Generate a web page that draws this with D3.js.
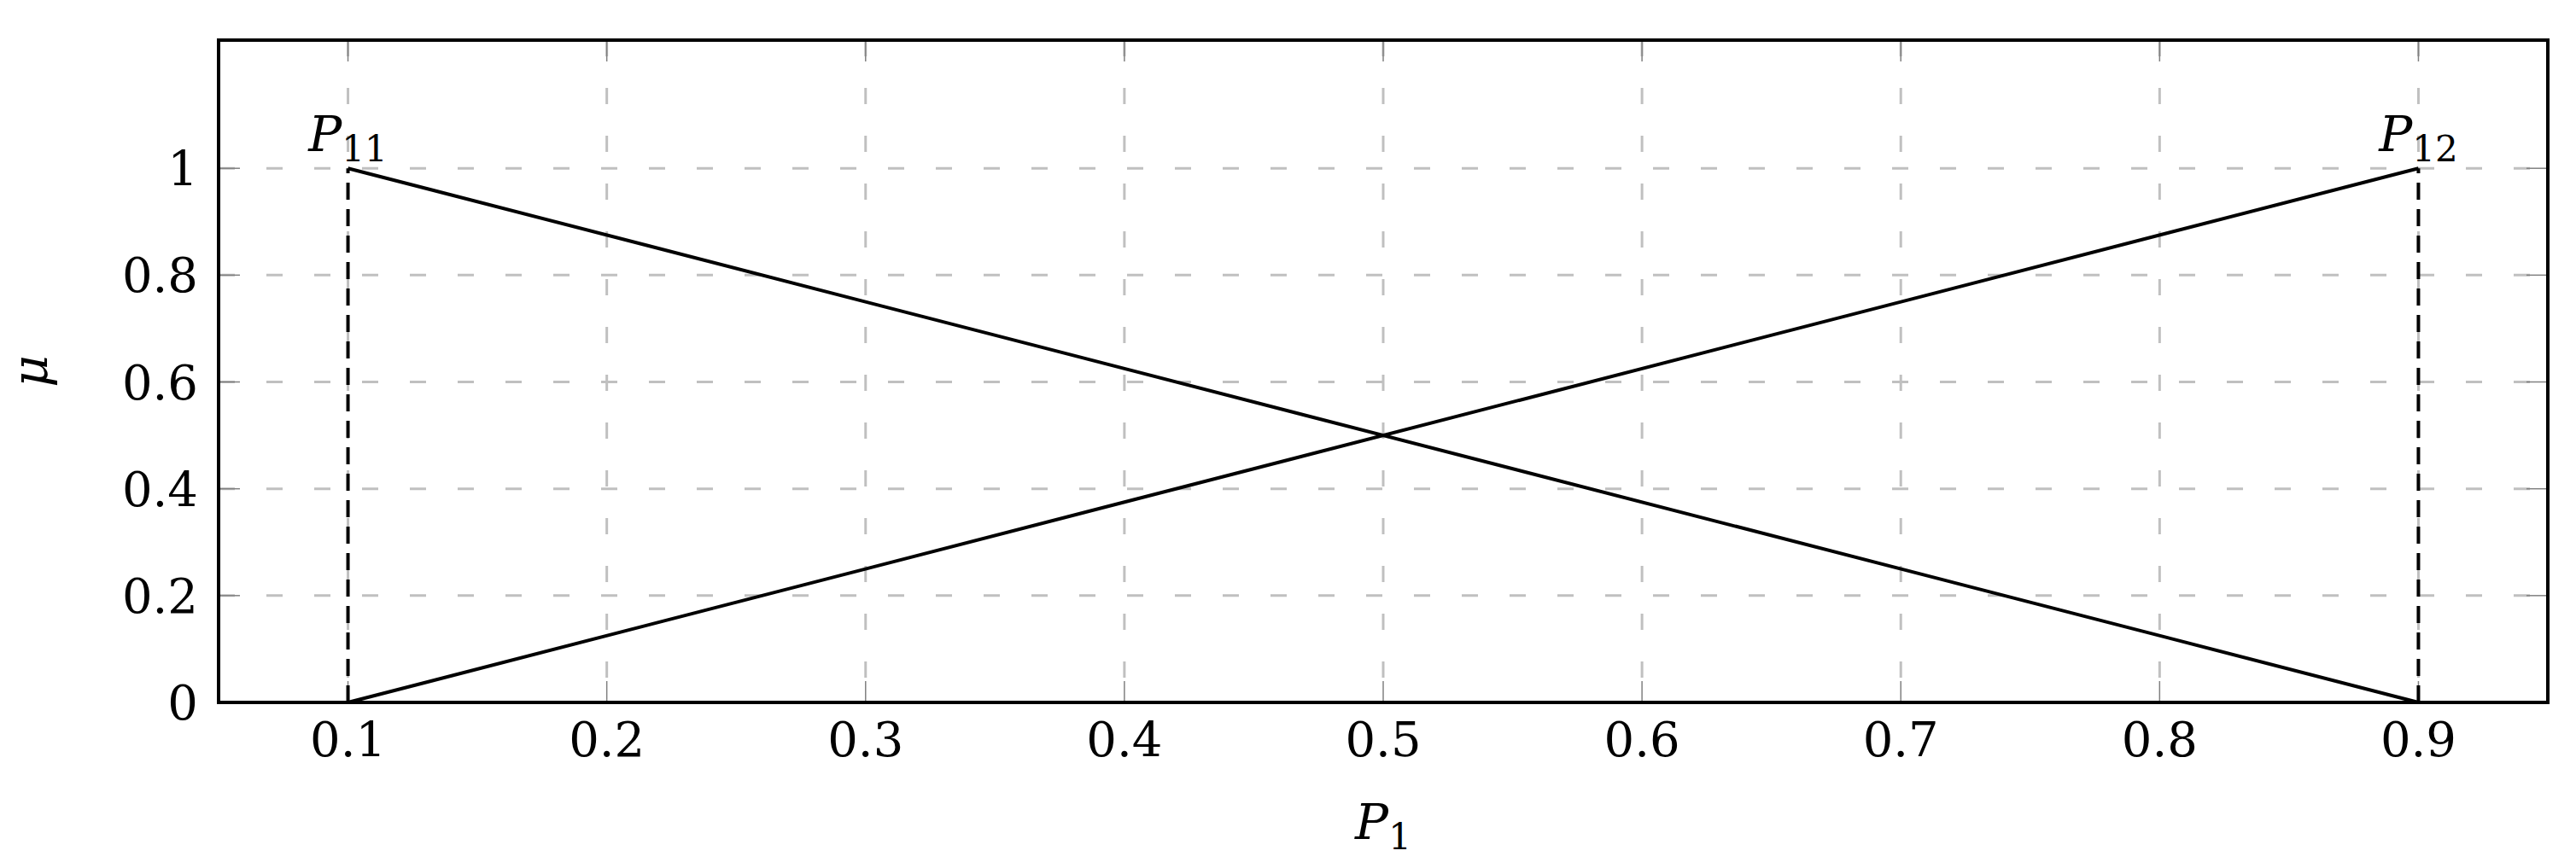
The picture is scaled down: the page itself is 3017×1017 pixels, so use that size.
<!DOCTYPE html>
<html>
<head>
<meta charset="utf-8">
<script src="https://cdn.jsdelivr.net/npm/d3@7"></script>
<style>
  body { margin: 0; background: #fff; }
  text { font-family: "DejaVu Serif", "Liberation Serif", serif; }
</style>
</head>
<body>
<svg id="chart" width="3017" height="1017"></svg>
<script>
// Membership functions mu(P1)
var xTicks = [0.1, 0.2, 0.3, 0.4, 0.5, 0.6, 0.7, 0.8, 0.9];
var yTicks = [0, 0.2, 0.4, 0.6, 0.8, 1];
var falling = [[0.1, 1], [0.9, 0]];   // P11
var rising = [[0.1, 0], [0.9, 1]];    // P12
var peaks = [
  { name: "P", sub: "11", x: 0.1, y: 1 },
  { name: "P", sub: "12", x: 0.9, y: 1 }
];

var svg = d3.select("#chart");
var pL = 256, pR = 2984, pT = 47, pB = 823;

var x = d3.scaleLinear().domain([0.05, 0.95]).range([pL, pR]);
var y = d3.scaleLinear().domain([0, 1.24]).range([pB, pT]);

// grid
svg.append("g").selectAll("line").data(xTicks).join("line")
  .attr("x1", d => x(d)).attr("x2", d => x(d))
  .attr("y1", pT).attr("y2", pB)
  .attr("stroke", "#c0c0c0").attr("stroke-width", 3).attr("stroke-dasharray", "19,37");
svg.append("g").selectAll("line").data(yTicks).join("line")
  .attr("x1", pL).attr("x2", pR)
  .attr("y1", d => y(d)).attr("y2", d => y(d))
  .attr("stroke", "#c0c0c0").attr("stroke-width", 3).attr("stroke-dasharray", "19,37");

// small ticks
var tk = svg.append("g").attr("stroke", "#808080").attr("stroke-width", 1.5);
xTicks.forEach(d => {
  tk.append("line").attr("x1", x(d)).attr("x2", x(d)).attr("y1", pB).attr("y2", pB - 25);
  tk.append("line").attr("x1", x(d)).attr("x2", x(d)).attr("y1", pT).attr("y2", pT + 25);
});
yTicks.forEach(d => {
  tk.append("line").attr("x1", pL).attr("x2", pL + 25).attr("y1", y(d)).attr("y2", y(d));
  tk.append("line").attr("x1", pR).attr("x2", pR - 25).attr("y1", y(d)).attr("y2", y(d));
});

// dashed verticals at the peaks
svg.append("g").selectAll("line").data(peaks).join("line")
  .attr("x1", d => x(d.x)).attr("x2", d => x(d.x))
  .attr("y1", y(0)).attr("y2", d => y(d.y))
  .attr("stroke", "#000").attr("stroke-width", 4).attr("stroke-dasharray", "20,11");

// lines
var line = d3.line().x(d => x(d[0])).y(d => y(d[1]));
[falling, rising].forEach(s => {
  svg.append("path").attr("d", line(s)).attr("fill", "none")
    .attr("stroke", "#000").attr("stroke-width", 4);
});

// frame
svg.append("rect").attr("x", pL).attr("y", pT)
  .attr("width", pR - pL).attr("height", pB - pT)
  .attr("fill", "none").attr("stroke", "#000").attr("stroke-width", 4);

// tick labels
svg.append("g").selectAll("text").data(xTicks).join("text")
  .attr("x", d => x(d)).attr("y", 886)
  .attr("text-anchor", "middle").attr("font-size", 56)
  .text(d => d3.format(".1f")(d));
svg.append("g").selectAll("text").data(yTicks).join("text")
  .attr("x", 232).attr("y", d => y(d) + 20)
  .attr("text-anchor", "end").attr("font-size", 56)
  .text(d => d === 0 || d === 1 ? String(d) : d3.format(".1f")(d));

// peak labels
peaks.forEach(p => {
  var t = svg.append("text").attr("x", x(p.x)).attr("y", y(p.y) - 20)
    .attr("text-anchor", "middle").attr("font-size", 58);
  t.append("tspan").attr("font-style", "italic").text(p.name);
  t.append("tspan").attr("font-size", 42).attr("dy", 12).text(p.sub);
});

// axis labels
var xl = svg.append("text").attr("x", 1620).attr("y", 983)
  .attr("text-anchor", "middle").attr("font-size", 58);
xl.append("tspan").attr("font-style", "italic").text("P");
xl.append("tspan").attr("font-size", 42).attr("dy", 12).text("1");

svg.append("text").attr("transform", "translate(55,435) rotate(-90)")
  .attr("text-anchor", "middle").attr("font-size", 58).attr("font-style", "italic")
  .text("μ");
</script>
</body>
</html>
